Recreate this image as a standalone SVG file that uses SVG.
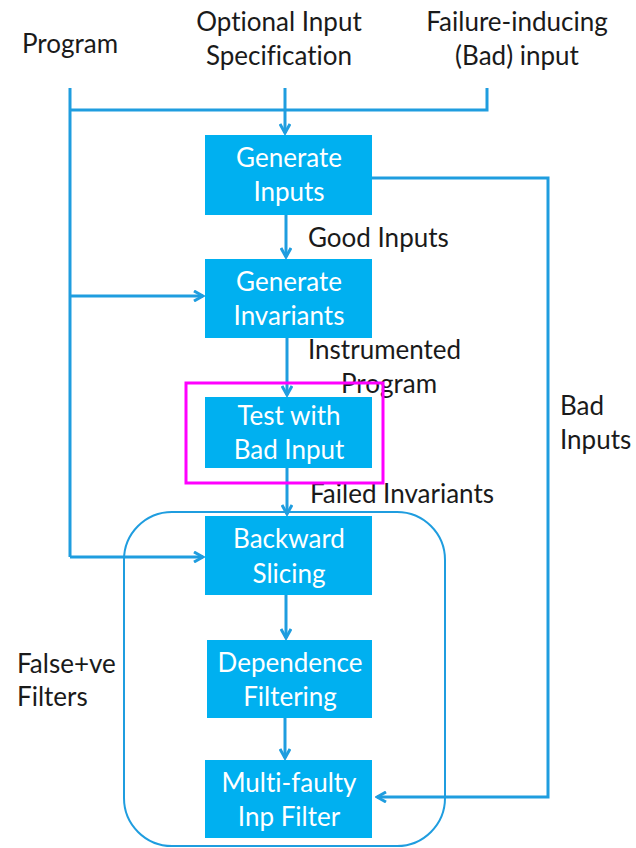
<svg xmlns="http://www.w3.org/2000/svg" width="636" height="848" viewBox="0 0 636 848">
  <style>
    .box { fill: #00b0f0; }
    .btxt { font-family: Lato, "Open Sans", sans-serif; font-size: 26px; fill: #ffffff; text-anchor: middle; font-variant-ligatures: none; }
    .lbl { font-family: Lato, "Open Sans", sans-serif; font-size: 26px; fill: #1a1a1a; font-variant-ligatures: none; }
    .wire { fill: none; stroke: #1f9ddf; stroke-width: 3; }
  </style>
  <defs>
    <marker id="arr" markerWidth="12" markerHeight="12" refX="10" refY="6" orient="auto" markerUnits="userSpaceOnUse">
      <path d="M1,1 L10,6 L1,11" fill="none" stroke="#1f9ddf" stroke-width="3"/>
    </marker>
  </defs>
  <rect width="636" height="848" fill="#ffffff"/>

  <!-- inputs -->
  <g id="in-program"><text class="lbl" x="22" y="53">Program</text></g>
  <g id="in-spec">
    <text class="lbl" x="279" y="31" text-anchor="middle">Optional Input</text>
    <text class="lbl" x="279" y="65" text-anchor="middle">Specification</text>
  </g>
  <g id="in-bad">
    <text class="lbl" x="517" y="31" text-anchor="middle">Failure-inducing</text>
    <text class="lbl" x="517" y="65" text-anchor="middle">(Bad) input</text>
  </g>

  <!-- connectors -->
  <g id="connectors">
    <path class="wire" d="M70,88 V557"/>
    <path class="wire" d="M487,88 V110 H70"/>
    <path class="wire" d="M285,88 V133" marker-end="url(#arr)"/>
    <path class="wire" d="M286,215 V257" marker-end="url(#arr)"/>
    <path class="wire" d="M70,296 H203" marker-end="url(#arr)"/>
    <path class="wire" d="M287,338 V395" marker-end="url(#arr)"/>
    <path class="wire" d="M287,468 V514" marker-end="url(#arr)"/>
    <path class="wire" d="M70,557 H203" marker-end="url(#arr)"/>
    <path class="wire" d="M286,595 V638" marker-end="url(#arr)"/>
    <path class="wire" d="M285,718 V758" marker-end="url(#arr)"/>
    <path class="wire" d="M372,178 H548 V797 H377" marker-end="url(#arr)"/>
  </g>

  <!-- filter group outline -->
  <g id="filters">
    <rect x="124" y="512" width="321" height="334" rx="48" fill="none" stroke="#1f9ddf" stroke-width="2"/>
    <text class="lbl" x="17" y="673">False+ve</text>
    <text class="lbl" x="17" y="706">Filters</text>
  </g>

  <!-- edge labels -->
  <g id="labels">
    <text class="lbl" x="308" y="247">Good Inputs</text>
    <text class="lbl" x="308" y="359">Instrumented</text>
    <text class="lbl" x="341" y="393">Program</text>
    <text class="lbl" x="310" y="503">Failed Invariants</text>
    <text class="lbl" x="560" y="415">Bad</text>
    <text class="lbl" x="560" y="449">Inputs</text>
  </g>

  <g id="gen-inputs">
    <rect class="box" x="205" y="135" width="167" height="80"/>
    <text class="btxt" x="289" y="167">Generate</text>
    <text class="btxt" x="289" y="201">Inputs</text>
  </g>
  <g id="gen-invariants">
    <rect class="box" x="205" y="259" width="167" height="79"/>
    <text class="btxt" x="289" y="291">Generate</text>
    <text class="btxt" x="289" y="325">Invariants</text>
  </g>
  <g id="test-bad">
    <rect class="box" x="205" y="397" width="167" height="71"/>
    <text class="btxt" x="289" y="425">Test with</text>
    <text class="btxt" x="289" y="459">Bad Input</text>
    <rect x="186" y="383" width="197" height="100" fill="none" stroke="#ff00ff" stroke-width="3"/>
  </g>
  <g id="backward">
    <rect class="box" x="205" y="516" width="167" height="79"/>
    <text class="btxt" x="289" y="548">Backward</text>
    <text class="btxt" x="289" y="583">Slicing</text>
  </g>
  <g id="dependence">
    <rect class="box" x="207" y="640" width="165" height="78"/>
    <text class="btxt" x="290" y="672">Dependence</text>
    <text class="btxt" x="290" y="706">Filtering</text>
  </g>
  <g id="multifaulty">
    <rect class="box" x="205" y="760" width="167" height="78"/>
    <text class="btxt" x="289" y="792">Multi-faulty</text>
    <text class="btxt" x="289" y="826">Inp Filter</text>
  </g>
</svg>
